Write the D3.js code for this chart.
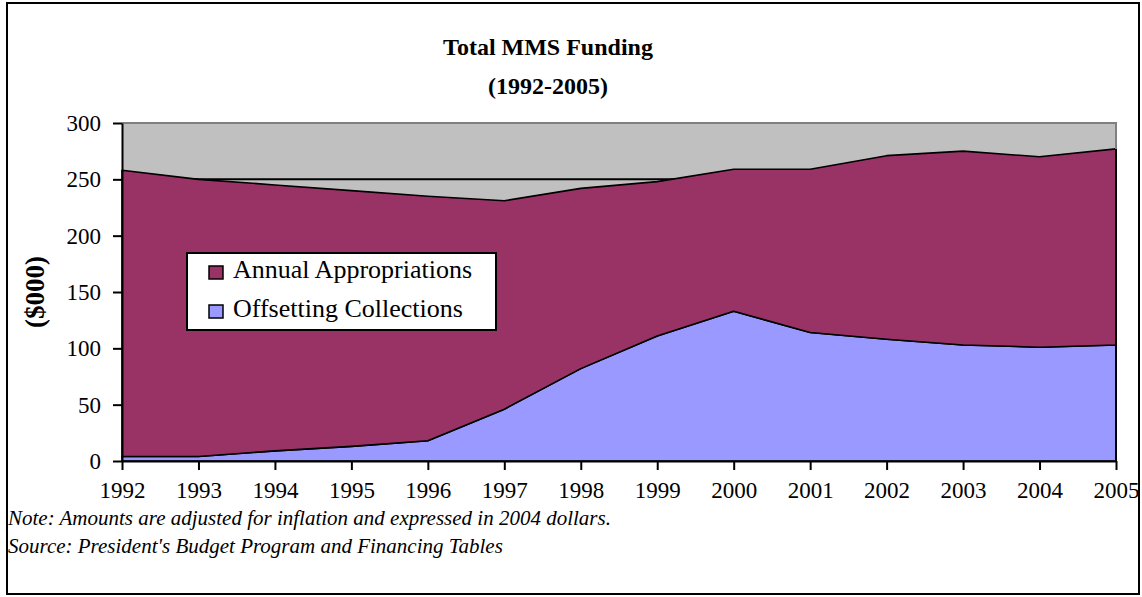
<!DOCTYPE html>
<html lang="en">
<head>
    <meta charset="UTF-8">
    <title>Total MMS Funding</title>
    <script src="https://cdn.jsdelivr.net/npm/d3@7"></script>
</head>
<style>
    body { margin: 0; background: #fff; }
    text { font-family: "Liberation Serif", "Times New Roman", serif; }
</style>
<body>
<script>
    // data, $000 (2004 dollars)
    const years = [1992, 1993, 1994, 1995, 1996, 1997, 1998, 1999, 2000, 2001, 2002, 2003, 2004, 2005];
    const offsetting = [4, 4, 9, 13, 18, 46, 82, 111, 133, 114, 108, 103, 101, 103];
    const appropriations = [254, 246, 236, 227, 217, 185, 160, 137, 126, 145, 163, 172, 169, 174];
    const seriesNames = ["Offsetting Collections", "Annual Appropriations"];
    const seriesColors = ["#9999ff", "#993366"];
    const yTicks = [0, 50, 100, 150, 200, 250, 300];

    const W = 1142, H = 597;
    const plotL = 122, plotR = 1116, plotT = 123, plotB = 461;

    const svg = d3.select("body").append("svg")
            .attr("width", W)
            .attr("height", H);

    svg.append("rect")
            .attr("x", 7).attr("y", 3)
            .attr("width", W - 10).attr("height", H - 6)
            .attr("fill", "#fff")
            .attr("stroke", "#000")
            .attr("stroke-width", 2);

    const x = d3.scaleLinear().domain([1992, 2005]).range([plotL, plotR]);
    const y = d3.scaleLinear().domain([0, 300]).range([plotB, plotT]);

    // plot background
    svg.append("rect")
            .attr("x", plotL).attr("y", plotT)
            .attr("width", plotR - plotL).attr("height", plotB - plotT)
            .attr("fill", "#c0c0c0");

    // gridlines
    svg.append("g").selectAll("line")
            .data(yTicks.filter(d => d > 0 && d < 300))
            .join("line")
            .attr("x1", plotL).attr("x2", plotR)
            .attr("y1", d => y(d)).attr("y2", d => y(d))
            .attr("stroke", "#000")
            .attr("stroke-width", 2);

    const rows = years.map((yr, i) => ({year: yr, off: offsetting[i], app: appropriations[i]}));
    const stacked = d3.stack().keys(["off", "app"])(rows);

    const area = d3.area()
            .x(d => x(d.data.year))
            .y0(d => y(d[0]))
            .y1(d => y(d[1]));

    svg.append("g").selectAll("path")
            .data(stacked)
            .join("path")
            .attr("d", area)
            .attr("fill", (d, i) => seriesColors[i])
            .attr("stroke", "#000")
            .attr("stroke-width", 1.6)
            .attr("stroke-linejoin", "round");

    // plot border top/right
    svg.append("path")
            .attr("d", `M${plotL},${plotT}H${plotR}V${plotB}`)
            .attr("fill", "none")
            .attr("stroke", "#808080")
            .attr("stroke-width", 2);
    const lastTotal = offsetting[offsetting.length - 1] + appropriations[appropriations.length - 1];
    svg.append("line")
            .attr("x1", plotR).attr("x2", plotR)
            .attr("y1", y(lastTotal)).attr("y2", plotB)
            .attr("stroke", "#000").attr("stroke-width", 2);

    // axes
    const xAxis = svg.append("g")
            .attr("transform", `translate(0,${plotB})`)
            .call(d3.axisBottom(x).tickValues(years).tickFormat(d3.format("d")).tickSize(9).tickSizeOuter(0));
    const yAxis = svg.append("g")
            .attr("transform", `translate(${plotL},0)`)
            .call(d3.axisLeft(y).tickValues(yTicks).tickSize(9).tickSizeOuter(0).tickPadding(12));

    [xAxis, yAxis].forEach(g => {
        g.select(".domain").attr("stroke", "#000").attr("stroke-width", 2);
        g.selectAll(".tick line").attr("stroke", "#000").attr("stroke-width", 2);
        g.selectAll(".tick text")
                .attr("font-family", "Liberation Serif")
                .attr("font-size", 23)
                .attr("fill", "#000");
    });
    xAxis.selectAll(".tick text").attr("dy", "0.71em").attr("y", 21);
    xAxis.select(".domain").attr("d", `M${plotL},0.5H${plotR}`);

    // titles
    svg.append("text")
            .attr("x", 548).attr("y", 55)
            .attr("text-anchor", "middle")
            .attr("font-weight", "bold")
            .attr("font-size", 24)
            .text("Total MMS Funding");
    svg.append("text")
            .attr("x", 548).attr("y", 94)
            .attr("text-anchor", "middle")
            .attr("font-weight", "bold")
            .attr("font-size", 24)
            .text("(1992-2005)");

    svg.append("text")
            .attr("transform", `translate(44,${(plotT + plotB) / 2}) rotate(-90)`)
            .attr("text-anchor", "middle")
            .attr("font-weight", "bold")
            .attr("font-size", 27)
            .text("($000)");

    // legend
    const lg = svg.append("g").attr("transform", "translate(187,253)");
    lg.append("rect")
            .attr("width", 309).attr("height", 77)
            .attr("fill", "#fff")
            .attr("stroke", "#000")
            .attr("stroke-width", 2);
    const legendItems = [1, 0];
    legendItems.forEach((si, j) => {
        lg.append("rect")
                .attr("x", 22).attr("y", 13 + j * 39)
                .attr("width", 14).attr("height", 13)
                .attr("fill", seriesColors[si])
                .attr("stroke", "#000")
                .attr("stroke-width", 1.5);
        lg.append("text")
                .attr("x", 46).attr("y", 25 + j * 39)
                .attr("font-size", 26)
                .text(seriesNames[si]);
    });

    // notes
    svg.append("text")
            .attr("x", 8).attr("y", 525)
            .attr("font-style", "italic")
            .attr("font-size", 21)
            .text("Note: Amounts are adjusted for inflation and expressed in 2004 dollars.");
    svg.append("text")
            .attr("x", 8).attr("y", 553)
            .attr("font-style", "italic")
            .attr("font-size", 21)
            .text("Source: President's Budget Program and Financing Tables");
</script>
</body>
</html>
